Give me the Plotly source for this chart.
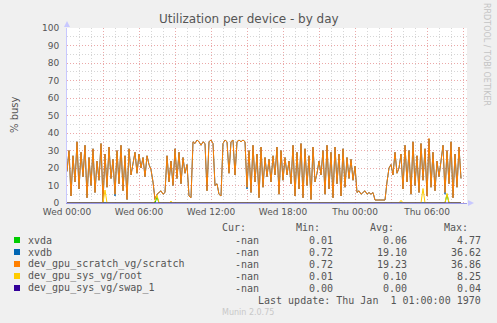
import plotly.graph_objects as go

# ---------------- data (10-minute samples starting Wed 00:00) ----------------
STEP_MIN = 10
scratch = [
    18, 30, 4, 27, 12, 35, 8, 29, 15, 33, 3, 26, 10, 31, 6, 24, 13, 34, 0.7, 28,
    9, 32, 14, 25, 5, 30, 11, 33, 7, 27, 2, 31, 16, 24, 29, 17, 28, 20, 26, 15,
    27, 22, 19, 12, 2, 5, 6, 7, 5, 6, 27, 12, 24, 10, 31, 14, 29, 11, 26, 17,
    22, 4, 3, 35, 34, 36, 35, 33, 35, 34, 7, 35, 36, 34, 10, 11, 5, 4, 34, 36,
    35, 17, 35, 36, 16, 35, 36, 35, 36, 35, 9, 30, 6, 33, 12, 28, 3, 32, 9, 26,
    15, 25, 12, 27, 16, 32, 5, 30, 13, 26, 16, 24, 11, 33, 4, 29, 8, 34, 3, 31,
    10, 27, 2, 32, 12, 17, 24, 16, 30, 5, 33, 8, 29, 3, 32, 11, 28, 4, 31, 9,
    26, 14, 25, 13, 21, 6, 7, 5, 6, 7, 5, 6, 5, 6, 1.7, 1.7, 1.7, 1.7, 1.7, 1.7,
    12, 20, 22, 16, 29, 17, 20, 28, 8, 33, 12, 30, 5, 35, 10, 27, 6, 34, 13, 31,
    4, 36.9, 9, 29, 7, 24, 15, 23, 33, 6, 30, 11, 35, 3, 28, 9, 32, 14,
]
xvdb = [
    18, 30, 4, 27, 12, 35, 8, 29, 15, 33, 3, 26, 10, 31, 6, 24, 13, 34, 0.7, 28,
    9, 32, 14, 25, 4, 30, 11, 33, 7, 27, 2, 31, 16, 24, 29, 17, 28, 20, 26, 15,
    27, 22, 19, 12, 2, 5, 6, 7, 5, 6, 27, 12, 24, 10, 31, 14, 29, 11, 26, 17,
    22, 4, 3, 35, 34, 36, 35, 33, 35, 34, 7, 35, 36, 34, 10, 11, 5, 4, 34, 36,
    35, 17, 35, 36, 16, 35, 36, 35, 36, 35, 8, 30, 6, 33, 12, 28, 3, 32, 9, 26,
    15, 25, 12, 27, 16, 32, 5, 30, 13, 26, 16, 24, 11, 33, 4, 29, 8, 34, 3, 31,
    10, 27, 2, 32, 12, 17, 24, 16, 30, 5, 33, 8, 29, 3, 32, 11, 28, 4, 31, 9,
    26, 14, 25, 13, 21, 6, 7, 5, 6, 7, 5, 6, 5, 6, 1.7, 1.7, 1.7, 1.7, 1.7, 1.7,
    12, 20, 22, 16, 29, 17, 20, 28, 8, 33, 12, 30, 5, 35, 10, 27, 6, 34, 13, 31,
    4, 36.6, 9, 29, 7, 24, 15, 23, 33, 5, 30, 11, 35, 3, 28, 9, 32, 14,
]
root = [
    0.05, 0.05, 0.05, 0.05, 0.05, 0.05, 0.05, 0.05, 0.05, 0.05, 0.05, 0.05, 0.05, 0.05, 0.05, 0.05, 0.05, 0.05, 0.05, 7.4,
    0.05, 0.05, 0.05, 0.05, 0.05, 0.05, 0.05, 0.05, 0.05, 0.05, 0.05, 0.05, 0.05, 0.05, 0.05, 0.05, 0.05, 0.05, 0.05, 0.05,
    0.05, 0.05, 0.05, 0.05, 1.0, 4.5, 0.05, 0.05, 0.05, 0.05, 0.05, 0.05, 1.0, 0.05, 0.05, 0.05, 0.05, 0.05, 0.05, 0.05,
    0.05, 0.05, 0.05, 0.05, 0.05, 0.05, 0.05, 0.05, 0.05, 0.05, 0.05, 0.05, 0.05, 0.05, 0.05, 0.05, 0.05, 0.05, 0.05, 0.05,
    0.05, 0.05, 0.05, 0.05, 0.05, 0.05, 0.05, 0.05, 0.05, 0.05, 0.05, 0.05, 0.05, 0.05, 0.05, 0.05, 0.05, 0.05, 0.05, 0.05,
    0.05, 0.05, 0.05, 0.05, 0.05, 0.05, 0.05, 0.05, 0.05, 0.05, 0.05, 0.05, 0.05, 0.05, 0.05, 0.05, 0.05, 0.05, 0.05, 0.05,
    0.05, 0.05, 0.05, 0.05, 0.05, 0.05, 0.05, 0.05, 0.05, 0.05, 0.05, 0.05, 0.05, 0.05, 0.05, 0.05, 0.05, 0.05, 0.05, 0.05,
    0.05, 0.05, 0.05, 0.05, 0.05, 0.05, 0.05, 0.05, 0.05, 0.05, 0.05, 0.05, 0.05, 0.05, 0.05, 0.05, 0.05, 0.05, 0.05, 0.05,
    0.05, 0.05, 0.05, 0.05, 0.05, 0.05, 0.05, 1.5, 0.05, 0.05, 0.05, 0.05, 0.05, 0.05, 0.05, 0.05, 0.05, 0.05, 8.25, 0.05,
    0.05, 0.05, 0.05, 0.05, 0.05, 0.05, 0.05, 0.05, 0.05, 0.05, 5.5, 0.05, 0.05, 0.05, 0.05, 0.05, 0.05, 0.05,
]
xvda = [
    0.05, 0.05, 0.05, 0.05, 0.05, 0.05, 0.05, 0.05, 0.05, 0.05, 0.05, 0.05, 0.05, 0.05, 0.05, 0.05, 0.05, 0.05, 0.05, 0.05,
    0.05, 0.05, 0.05, 0.05, 0.05, 0.05, 0.05, 0.05, 0.05, 0.05, 0.05, 0.05, 0.05, 0.05, 0.05, 0.05, 0.05, 0.05, 0.05, 0.05,
    0.05, 0.05, 0.05, 0.05, 0.05, 3.5, 0.05, 0.05, 0.05, 0.05, 0.05, 0.05, 0.05, 0.05, 0.05, 0.05, 0.05, 0.05, 0.05, 0.05,
    0.05, 0.05, 0.05, 0.05, 0.05, 0.05, 0.05, 0.05, 0.05, 0.05, 0.05, 0.05, 0.05, 0.05, 0.05, 0.05, 0.05, 0.05, 0.05, 0.05,
    0.05, 0.05, 0.05, 0.05, 0.05, 0.05, 0.05, 0.05, 0.05, 0.05, 0.05, 0.05, 0.05, 0.05, 0.05, 0.05, 0.05, 0.05, 0.05, 0.05,
    0.05, 0.05, 0.05, 0.05, 0.05, 0.05, 0.05, 0.05, 0.05, 0.05, 0.05, 0.05, 0.05, 0.05, 0.05, 0.05, 0.05, 0.05, 0.05, 0.05,
    0.05, 0.05, 0.05, 0.05, 0.05, 0.05, 0.05, 0.05, 0.05, 0.05, 0.05, 0.05, 0.05, 0.05, 0.05, 0.05, 0.05, 0.05, 0.05, 0.05,
    0.05, 0.05, 0.05, 0.05, 0.05, 0.05, 0.05, 0.05, 0.05, 0.05, 0.05, 0.05, 0.05, 0.05, 0.05, 0.05, 0.05, 0.05, 0.05, 0.05,
    0.05, 0.05, 0.05, 0.05, 0.05, 0.05, 0.05, 0.05, 0.05, 0.05, 0.05, 0.05, 0.05, 0.05, 0.05, 0.05, 0.05, 0.05, 0.05, 0.05,
    0.05, 0.05, 0.05, 0.05, 0.05, 0.05, 0.05, 0.05, 0.05, 0.05, 4.77, 0.05, 0.05, 0.05, 0.05, 0.05, 0.05, 0.05,
]
swap_1 = [0.0] * len(scratch)

series_names = ["xvda", "xvdb", "dev_gpu_scratch_vg/scratch", "dev_gpu_sys_vg/root", "dev_gpu_sys_vg/swap_1"]
series_colors = ["#00CC00", "#0066B3", "#FF8000", "#FFCC00", "#330099"]
cur_vals = ["-nan", "-nan", "-nan", "-nan", "-nan"]
min_vals = ["0.01", "0.72", "0.72", "0.01", "0.00"]
avg_vals = ["0.06", "19.10", "19.23", "0.10", "0.00"]
max_vals = ["4.77", "36.62", "36.86", "8.25", "0.04"]

tick_hours = [0, 3, 6, 9, 12, 15, 18, 21, 24, 27, 30, 33]
tick_labels = ["Wed 00:00", "", "Wed 06:00", "", "Wed 12:00", "", "Wed 18:00", "", "Thu 00:00", "", "Thu 06:00", ""]

times = [i * STEP_MIN / 60 for i in range(len(scratch))]

# ---------------- layout geometry (pixels) ----------------
W_FIG, H_FIG = 497, 323
L, R_EDGE, T, B_EDGE = 67, 467, 28, 203
PW, PH = R_EDGE - L, B_EDGE - T


def px(x):
    return (x - L) / PW


def py(y):
    return (B_EDGE - y) / PH


fig = go.Figure()
for name, col, vals in zip(series_names, series_colors, [xvda, xvdb, scratch, root, swap_1]):
    fig.add_trace(go.Scatter(x=times, y=vals, mode="lines", name=name,
                             line=dict(color=col, width=1), hoverinfo="skip", showlegend=False))

RED = "#eba8a8"
GRAY = "#d6d6d6"
TXT = "#555555"
tick_font = dict(family="DejaVu Sans", size=9, color=TXT)

fig.update_layout(
    width=W_FIG, height=H_FIG, autosize=False,
    margin=dict(l=L, r=W_FIG - R_EDGE, t=T, b=H_FIG - B_EDGE, pad=0),
    paper_bgcolor="#F0F0F0", plot_bgcolor="#FFFFFF",
    xaxis=dict(range=[0, PW / 12], tickmode="array", tickvals=tick_hours, ticktext=tick_labels,
               showgrid=True, gridcolor=RED, griddash="1px,2px", gridwidth=1,
               minor=dict(tickmode="linear", tick0=0, dtick=1, showgrid=True, gridcolor=GRAY,
                          griddash="1px,2px", gridwidth=1),
               zeroline=False, showline=True, linecolor="#9a9ae8", linewidth=1,
               ticks="", tickfont=tick_font, fixedrange=True),
    yaxis=dict(range=[0, 100], tickmode="linear", tick0=0, dtick=10,
               showgrid=True, gridcolor=RED, griddash="1px,2px", gridwidth=1,
               minor=dict(tickmode="linear", tick0=0, dtick=5, showgrid=True, gridcolor=GRAY,
                          griddash="1px,2px", gridwidth=1),
               zeroline=False, showline=True, linecolor="#c8c8ff", linewidth=1,
               ticks="", tickfont=tick_font, ticklabelstandoff=5, fixedrange=True),
)

ann = []
# title
ann.append(dict(x=px(249), y=py(19), text="Utilization per device - by day", showarrow=False,
                xanchor="center", yanchor="middle",
                font=dict(family="DejaVu Sans", size=12, color=TXT)))
# y axis title
ann.append(dict(x=px(14), y=py(115), text="% busy", showarrow=False, textangle=-90,
                xanchor="center", yanchor="middle",
                font=dict(family="DejaVu Sans", size=10, color=TXT)))
# rrdtool credit
ann.append(dict(x=px(487), y=py(54), text="RRDTOOL / TOBI OETIKER", showarrow=False, textangle=90,
                xanchor="center", yanchor="middle",
                font=dict(family="DejaVu Sans", size=8, color="#c4c4c4")))

mono = dict(family="DejaVu Sans Mono", size=10, color=TXT)
header_y = 227
for txt, xr in [("Cur:", 248), ("Min:", 322), ("Avg:", 396), ("Max:", 470)]:
    ann.append(dict(x=px(xr), y=py(header_y), text=txt, showarrow=False,
                    xanchor="right", yanchor="middle", font=mono))

shapes = []
row_y = [240, 252, 264, 276, 288]
for i, name in enumerate(series_names):
    yy = row_y[i]
    shapes.append(dict(type="rect", xref="paper", yref="paper",
                       x0=px(14), x1=px(20), y0=py(yy + 3), y1=py(yy - 3),
                       fillcolor=series_colors[i], line=dict(width=0)))
    ann.append(dict(x=px(26), y=py(yy), text=name, showarrow=False,
                    xanchor="left", yanchor="middle", font=mono))
    for vals, xr in [(cur_vals, 261), (min_vals, 335), (avg_vals, 409), (max_vals, 483)]:
        ann.append(dict(x=px(xr), y=py(yy), text=vals[i], showarrow=False,
                        xanchor="right", yanchor="middle", font=mono))

ann.append(dict(x=px(483), y=py(300), text="Last update: Thu Jan  1 01:00:00 1970".replace("  ", "&nbsp; "),
                showarrow=False, xanchor="right", yanchor="middle", font=mono))
ann.append(dict(x=px(248), y=py(312), text="Munin 2.0.75", showarrow=False,
                xanchor="center", yanchor="middle",
                font=dict(family="DejaVu Sans", size=8, color="#c8c8c8")))

# axis arrows
shapes.append(dict(type="path", xref="paper", yref="paper",
                   path=f"M {px(64)} {py(27)} L {px(70)} {py(27)} L {px(67)} {py(21)} Z",
                   fillcolor="#c8c8ff", line=dict(width=0)))
shapes.append(dict(type="path", xref="paper", yref="paper",
                   path=f"M {px(468)} {py(200)} L {px(468)} {py(206)} L {px(474)} {py(203)} Z",
                   fillcolor="#c8c8ff", line=dict(width=0)))

for a in ann:
    a.setdefault("xref", "paper")
    a.setdefault("yref", "paper")
fig.update_layout(annotations=ann, shapes=shapes)

fig.write_html("out.html")
